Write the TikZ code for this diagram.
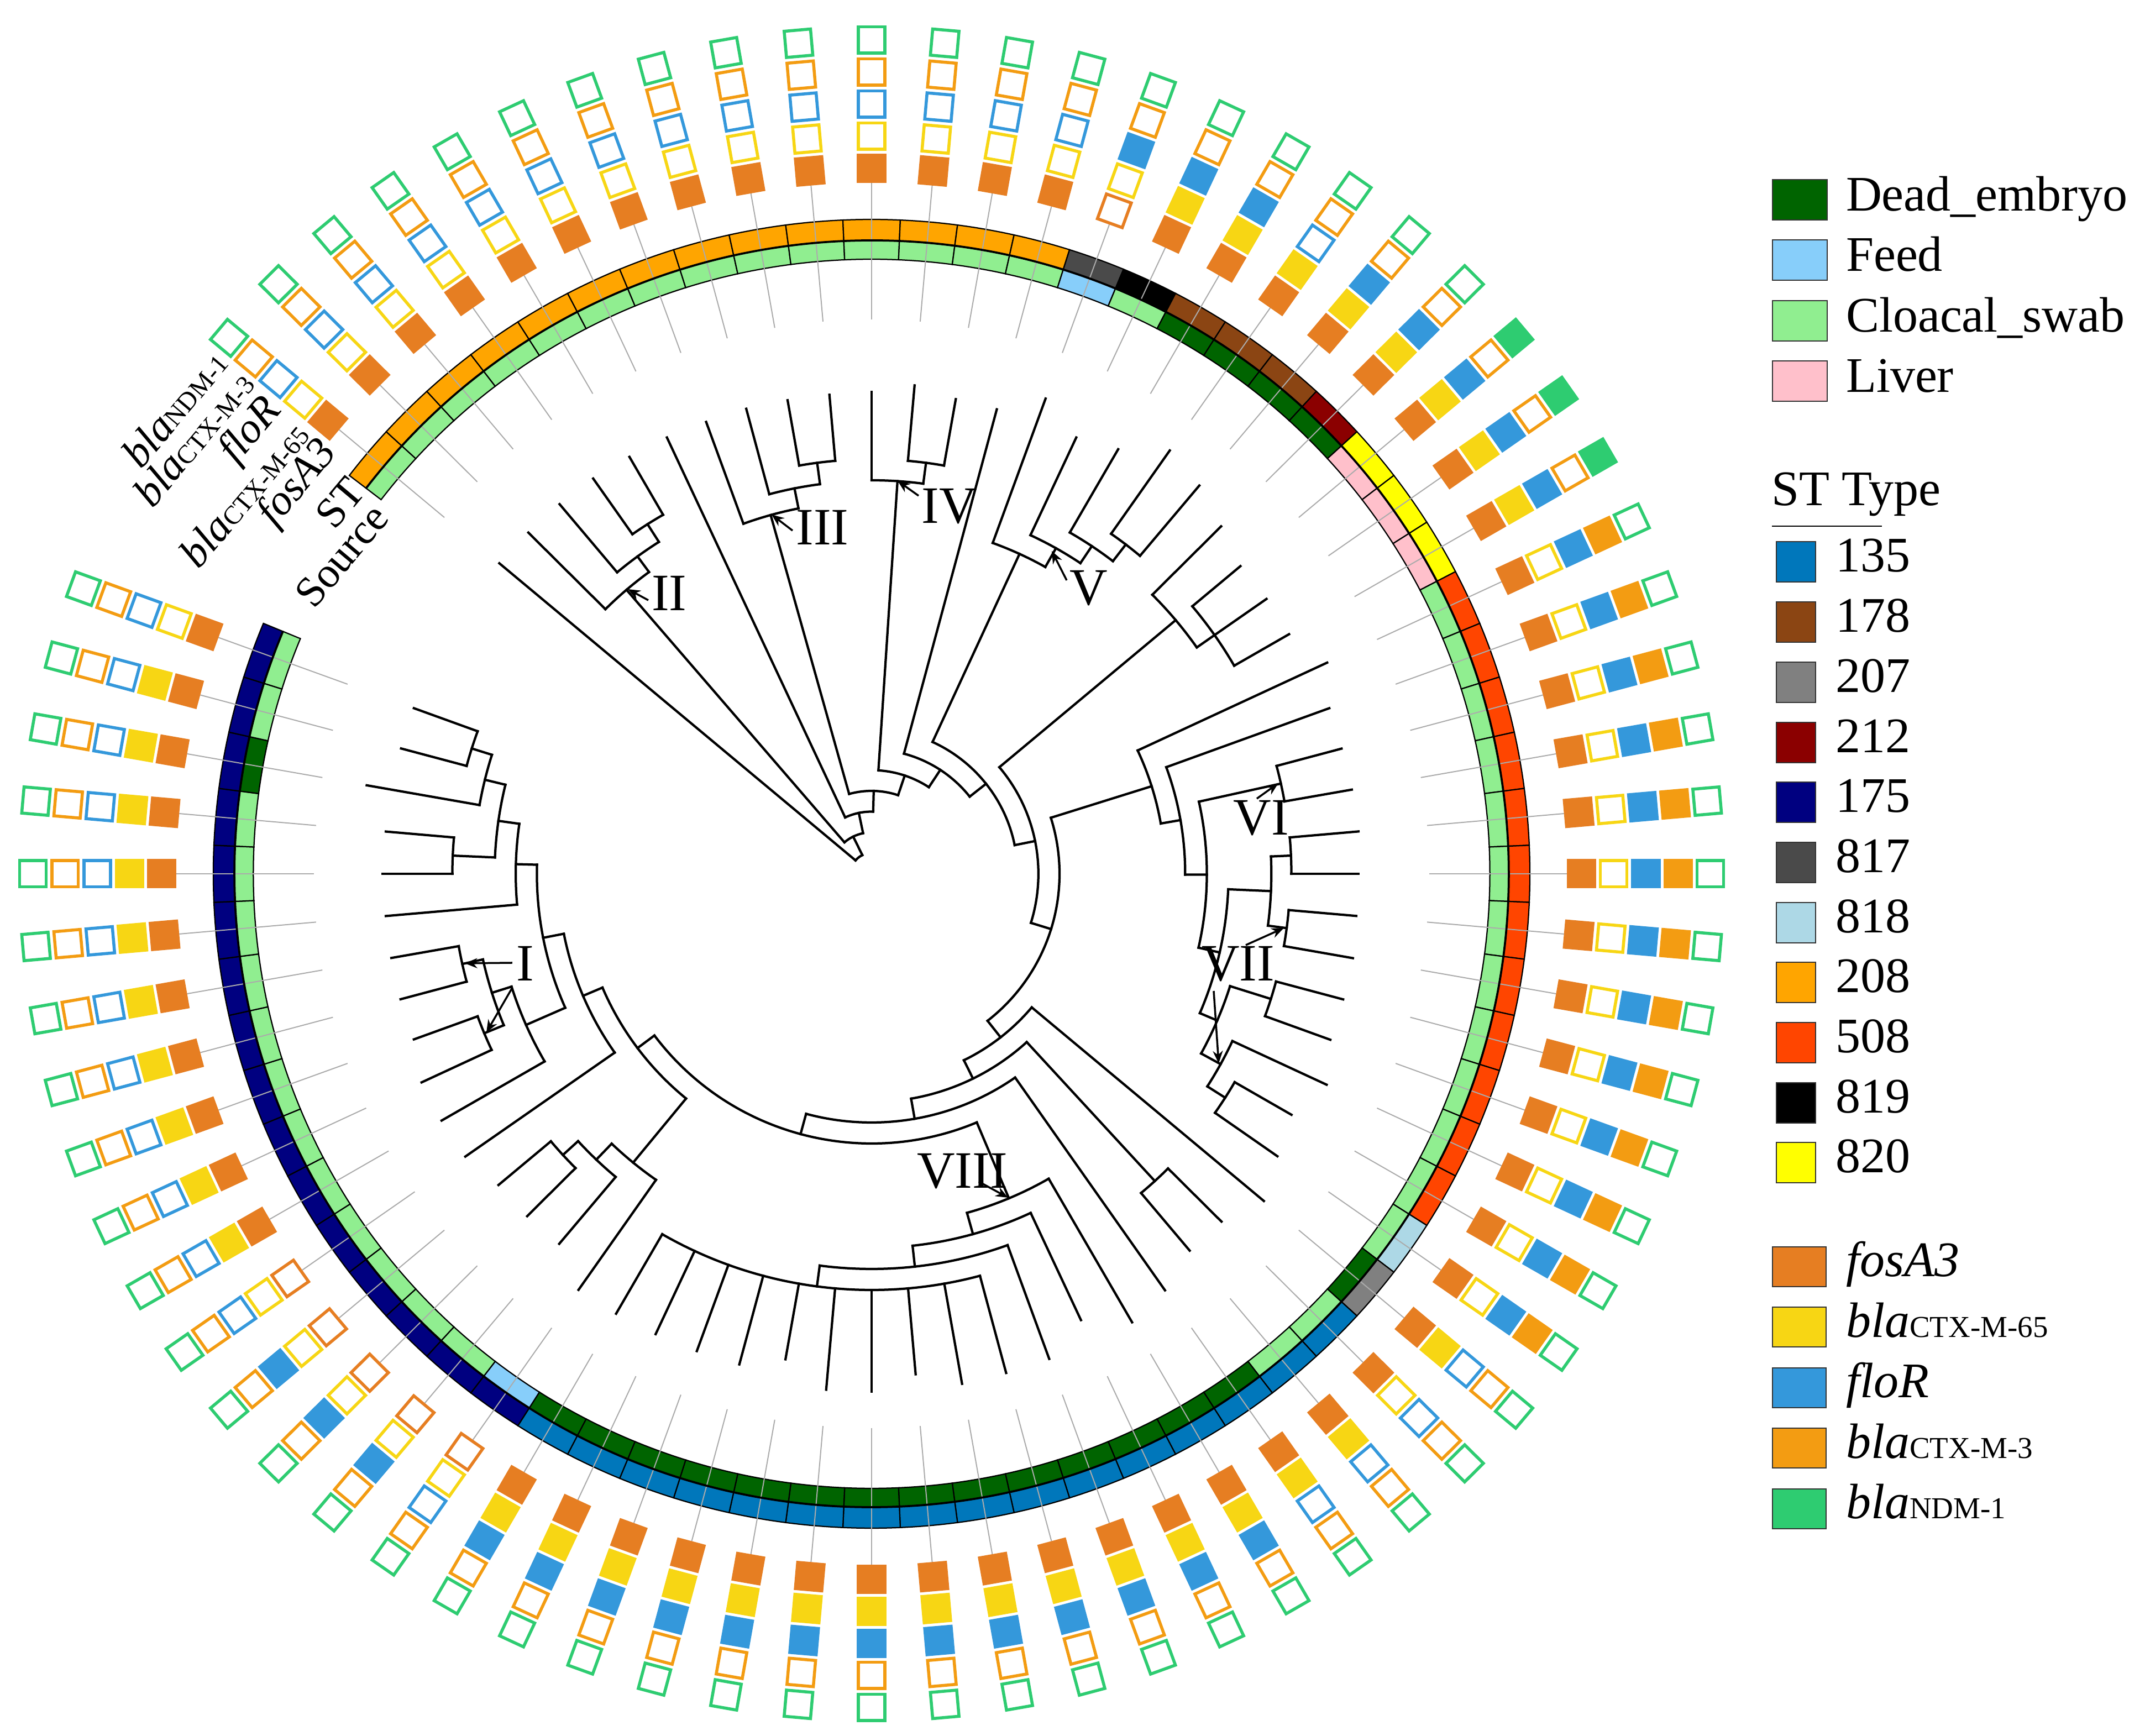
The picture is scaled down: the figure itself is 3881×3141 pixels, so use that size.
\documentclass[tikz,border=0pt]{standalone}
\usepackage{fontspec}
\setmainfont{Liberation Serif}
\usetikzlibrary{arrows.meta}
\definecolor{cDe}{HTML}{006400}
\definecolor{cFe}{HTML}{87CEFA}
\definecolor{cCl}{HTML}{90EE90}
\definecolor{cLi}{HTML}{FFC0CB}
\definecolor{st135}{HTML}{0077BB}
\definecolor{st178}{HTML}{8B4513}
\definecolor{st207}{HTML}{808080}
\definecolor{st212}{HTML}{8B0000}
\definecolor{st175}{HTML}{000080}
\definecolor{st817}{HTML}{4A4A4A}
\definecolor{st818}{HTML}{ADD8E6}
\definecolor{st208}{HTML}{FFA500}
\definecolor{st508}{HTML}{FF4500}
\definecolor{st819}{HTML}{000000}
\definecolor{st820}{HTML}{FFFF00}
\definecolor{gFos}{HTML}{E67E22}
\definecolor{gC65}{HTML}{F7D614}
\definecolor{gFlo}{HTML}{3498DB}
\definecolor{gC3}{HTML}{F39C12}
\definecolor{gNdm}{HTML}{2ECC71}
\tikzset{
  treeline/.style={line width=0.85pt, black, line cap=rect},
  leafline/.style={line width=0.4pt, black!33},
  cell/.style={draw=black, line width=0.45pt},
  legbox/.style={draw=black!80, line width=0.4pt},
  legtext/.style={inner sep=0pt, font=\fontsize{18}{18}\selectfont},
  rotlab/.style={inner sep=0pt, rotate=50, font=\fontsize{15.5}{15.5}\selectfont},
  clade/.style={inner sep=0pt, font=\fontsize{19}{19}\selectfont},
  cladearrow/.style={-{Stealth[length=4.5pt,width=3.6pt]}, line width=0.7pt},
}
\newcommand\gsq[4]{%
  \ifnum#4=1
    \fill[#3, shift={(#1:#2)}, rotate=#1] (-26.5,-26.5) rectangle (26.5,26.5);
  \else
    \draw[#3, line width=1.1pt, shift={(#1:#2)}, rotate=#1] (-23.75,-23.75) rectangle (23.75,23.75);
  \fi}
\newcommand\tnode[5]{%
  \draw[treeline] (#2:#1) -- (#2:#3);%
  \draw[treeline] (#4:#3) arc[start angle=#4, end angle=#5, radius=#3];}
\newcommand\subs[1]{{\fontsize{11}{11}\selectfont #1}}
\newcommand\rsubs[1]{{\fontsize{9.5}{9.5}\selectfont #1}}
\begin{document}
\begin{tikzpicture}[x=0.2pt,y=0.2pt]
\fill[white] (-1577,1581) rectangle (2304,-1560);
\useasboundingbox (-1577,1581) rectangle (2304,-1560);
\begin{scope}[xscale=1.006]
\foreach \lA/\lS/\lR/\ga/\gb/\gc/\gd/\ge/\lP/\lT in {
140/st208/cCl/1/0/0/0/0/37.7/874,
135/st208/cCl/1/0/0/0/0/677/873,
130/st208/cCl/1/0/0/0/0/712/873,
125/st208/cCl/1/0/0/0/0/750/873,
120/st208/cCl/1/0/0/0/0/750/871,
115/st208/cCl/1/0/0/0/0/112.5/871,
110/st208/cCl/1/0/0/0/0/674/870,
105/st208/cCl/1/0/0/0/0/711/871,
100/st208/cCl/1/0/0/0/0/750/870,
95/st208/cCl/1/0/0/0/0/750/870,
90/st208/cCl/1/0/0/0/0/712/872,
85/st208/cCl/1/0/0/0/0/750/887,
80/st208/cCl/1/0/0/0/0/750/872,
75/st208/cCl/1/0/0/0/0/225/870,
70/st817/cFe/0/0/1/0/0/637/915,
65/st819/cCl/1/1/1/0/0/676/871,
60/st178/cDe/1/1/1/0/0/713/887,
55/st178/cDe/1/1/0/0/0/751/935,
50/st178/cDe/1/1/1/0/0/751/917,
45/st212/cDe/1/1/1/0/0/714/889,
40/st820/cLi/1/1/1/0/1/753/866,
35/st820/cLi/1/1/1/0/1/753/867,
30/st820/cLi/1/1/1/0/1/753/867,
25/st508/cCl/1/0/1/1/0/528/904,
20/st508/cCl/1/0/1/1/0/564/876,
15/st508/cCl/1/0/1/1/0/754/875,
10/st508/cCl/1/0/1/1/0/754/877,
5/st508/cCl/1/0/1/1/0/755/879,
0/st508/cCl/1/0/1/1/0/755/876,
-5/st508/cCl/1/0/1/1/0/753/875,
-10/st508/cCl/1/0/1/1/0/753/879,
-15/st508/cCl/1/0/1/1/0/753/878,
-20/st508/cCl/1/0/1/1/0/753/878,
-25/st508/cCl/1/0/1/1/0/716/903,
-30/st508/cCl/1/0/1/1/0/754/872,
-35/st818/cCl/1/0/1/1/0/754/891,
-40/st207/cDe/1/1/0/0/0/376/921,
-45/st135/cCl/1/0/0/0/0/754/890,
-50/st135/cCl/1/1/0/0/0/754/890,
-55/st135/cDe/1/1/0/0/0/450/920,
-60/st135/cDe/1/1/1/0/0/637/937,
-65/st135/cDe/1/1/1/0/0/677/891,
-70/st135/cDe/1/1/1/0/0/715/934,
-75/st135/cDe/1/1/1/0/0/753/935,
-80/st135/cDe/1/1/1/0/0/753/937,
-85/st135/cDe/1/1/1/0/0/753/909,
-90/st135/cDe/1/1/1/0/0/753/937,
-95/st135/cDe/1/1/1/0/0/753/937,
-100/st135/cDe/1/1/1/0/0/753/892,
-105/st135/cDe/1/1/1/0/0/753/919,
-110/st135/cDe/1/1/1/0/0/753/919,
-115/st135/cDe/1/1/1/0/0/753/919,
-120/st135/cDe/1/1/1/0/0/753/919,
-125/st175/cFe/0/0/0/0/0/676/919,
-130/st175/cCl/0/0/1/0/0/716/874,
-135/st175/cCl/0/0/1/0/0/753/876,
-140/st175/cCl/0/0/1/0/0/753/876,
-145/st175/cCl/0/0/0/0/0/564/892,
-150/st175/cCl/1/1/0/0/0/679/893,
-155/st175/cCl/1/1/0/0/0/754/893,
-160/st175/cCl/1/1/0/0/0/754/876,
-165/st175/cCl/1/1/0/0/0/754/877,
-170/st175/cCl/1/1/0/0/0/754/877,
-175/st175/cCl/1/1/0/0/0/640/877,
-180/st175/cCl/1/1/0/0/0/754/880,
-185/st175/cCl/1/1/0/0/0/754/877,
-190/st175/cDe/1/1/0/0/0/716/922,
-195/st175/cCl/1/1/0/0/0/754/876,
-200/st175/cCl/1/0/0/0/0/754/876}{
  \filldraw[cell, fill=\lR] ({\lA+2.5}:1112) arc[start angle=\lA+2.5, end angle=\lA-2.5, radius=1112] -- ({\lA-2.5}:1146) arc[start angle=\lA-2.5, end angle=\lA+2.5, radius=1146] -- cycle;
  \filldraw[cell, fill=\lS] ({\lA+2.5}:1146) arc[start angle=\lA+2.5, end angle=\lA-2.5, radius=1146] -- ({\lA-2.5}:1184) arc[start angle=\lA-2.5, end angle=\lA+2.5, radius=1184] -- cycle;
  \draw[leafline] (\lA:1003) -- (\lA:1250);
  \gsq{\lA}{1276.5}{gFos}{\ga}
  \gsq{\lA}{1334.5}{gC65}{\gb}
  \gsq{\lA}{1392.5}{gFlo}{\gc}
  \gsq{\lA}{1450.5}{gC3}{\gd}
  \gsq{\lA}{1508.5}{gNdm}{\ge}
  \draw[treeline] (\lA:\lP) -- (\lA:\lT);
}
% boundary between the two rings
\draw[black, line width=0.75pt] (142.5:1146) arc[start angle=142.5, end angle=-202.5, radius=1146];
% backbone
\draw[treeline] (140:37.7) arc[start angle=140, end angle=116.199, radius=37.7];
\tnode{37.7}{116.199}{75}{130.625}{101.772}
\tnode{75}{101.772}{112.5}{115}{88.544}
\tnode{112.5}{88.544}{150}{105.625}{71.463}
\tnode{150}{71.463}{187.5}{86.25}{56.676}
\tnode{187.5}{56.676}{225}{75}{38.352}
\tnode{225}{38.352}{262.5}{65.3125}{11.391}
\tnode{262.5}{11.391}{300}{40}{-17.218}
\tnode{300}{-17.218}{338}{17.461}{-51.897}
\tnode{338}{-51.897}{376}{-40}{-63.794}
\tnode{376}{-63.794}{413}{-47.5}{-80.088}
\tnode{413}{-80.088}{450}{-55}{-105.176}
\tnode{450}{-105.176}{488}{-67.1875}{-143.164}
\tnode{488}{-143.164}{526}{-129.375}{-156.953}
\tnode{526}{-156.953}{564}{-145}{-168.906}
\tnode{564}{-168.906}{602}{-156.25}{-181.5625}
\tnode{602}{-181.5625}{640}{-175}{-188.125}
\tnode{640}{-188.125}{678}{-182.5}{-193.75}
% left clades
\tnode{678}{-182.5}{754}{-180}{-185}
\tnode{678}{-193.75}{716}{-190}{-197.5}
\tnode{716}{-197.5}{754}{-195}{-200}
\tnode{602}{-156.25}{679}{-150}{-162.5}
\tnode{679}{-162.5}{716}{-157.5}{-167.5}
\tnode{716}{-157.5}{754}{-155}{-160}
\tnode{716}{-167.5}{754}{-165}{-170}
\tnode{526}{-129.375}{676}{-125}{-133.75}
\tnode{676}{-133.75}{716}{-130}{-137.5}
\tnode{716}{-137.5}{753}{-135}{-140}
% bottom clade VIII
\tnode{488}{-67.1875}{637}{-60}{-74.375}
\tnode{637}{-74.375}{677}{-65}{-83.75}
\tnode{677}{-83.75}{715}{-70}{-97.5}
\tnode{715}{-97.5}{753}{-75}{-120}
\tnode{413}{-47.5}{754}{-45}{-50}
% right clades
\tnode{338}{17.461}{528}{25}{9.922}
\tnode{528}{9.922}{564}{20}{-0.156}
\tnode{564}{-0.156}{603}{12.5}{-12.8125}
\tnode{603}{12.5}{754}{15}{10}
\tnode{603}{-12.8125}{642}{-2.5}{-23.125}
\tnode{642}{-2.5}{719}{2.5}{-7.5}
\tnode{719}{2.5}{755}{5}{0}
\tnode{719}{-7.5}{753}{-5}{-10}
\tnode{642}{-23.125}{676}{-17.5}{-28.75}
\tnode{676}{-17.5}{753}{-15}{-20}
\tnode{676}{-28.75}{716}{-25}{-32.5}
\tnode{716}{-32.5}{754}{-30}{-35}
\tnode{300}{40}{714}{45}{35}
\tnode{714}{35}{753}{40}{30}
% upper clades
\tnode{262.5}{65.3125}{637}{70}{60.625}
\tnode{637}{60.625}{676}{65}{56.25}
\tnode{676}{56.25}{713}{60}{52.5}
\tnode{713}{52.5}{751}{55}{50}
\tnode{187.5}{86.25}{712}{90}{82.5}
\tnode{712}{82.5}{750}{85}{80}
\tnode{150}{105.625}{674}{110}{101.25}
\tnode{674}{101.25}{711}{105}{97.5}
\tnode{711}{97.5}{750}{100}{95}
\tnode{75}{130.625}{677}{135}{126.25}
\tnode{677}{126.25}{712}{130}{122.5}
\tnode{712}{122.5}{750}{125}{120}
\end{scope}

\begin{scope}[shift={(-1577,1581)},yscale=-1]
% ring labels
\node[rotlab, anchor=east] (lsrc) at (688,922) {Source};
\node[rotlab, anchor=east] (lst) at (645,874) {ST};
\node[rotlab, anchor=east] (lfos) at (597,807) {\textit{fosA3}};
\node[rotlab, anchor=east] (lc65) at (543,772) {\textit{bla}\rsubs{CTX-M-65}};
\node[rotlab, anchor=east] (lflo) at (497,730) {\textit{floR}};
\node[rotlab, anchor=east] (lc3) at (444,680) {\textit{bla}\rsubs{CTX-M-3}};
\node[rotlab, anchor=east] (lndm) at (396,642) {\textit{bla}\rsubs{NDM-1}};
% clade labels
\node[clade] (cI) at (950,1743) {I};
\node[clade] (cII) at (1211,1073) {II};
\node[clade] (cIII) at (1488,954) {III};
\node[clade] (cIV) at (1718,916) {IV};
\node[clade] (cV) at (1970,1064) {V};
\node[clade] (cVI) at (2282,1480) {VI};
\node[clade] (cVII) at (2240,1744) {VII};
\node[clade] (cVIII) at (1741,2119) {VIII};
\coordinate (aIs) at (927,1742); \coordinate (aIt) at (841,1743);
\coordinate (aIbs) at (927,1787); \coordinate (aIbt) at (880,1868);
\coordinate (aIIs) at (1173,1086); \coordinate (aIIt) at (1136,1066);
\coordinate (aIIIs) at (1434,960); \coordinate (aIIIt) at (1396,931);
\coordinate (aIVs) at (1662,897); \coordinate (aIVt) at (1624,870);
\coordinate (aVs) at (1930,1050); \coordinate (aVt) at (1903,997);
\coordinate (aVIs) at (2274,1445); \coordinate (aVIt) at (2313,1417);
\coordinate (aVIIs) at (2254,1710); \coordinate (aVIIt) at (2323,1679);
\coordinate (aVIIbs) at (2196,1793); \coordinate (aVIIbt) at (2205,1924);
\coordinate (aVIIIs) at (1771,2138); \coordinate (aVIIIt) at (1824,2167);
\draw[cladearrow] (aIs) -- (aIt);
\draw[cladearrow] (aIbs) -- (aIbt);
\draw[cladearrow] (aIIs) -- (aIIt);
\draw[cladearrow] (aIIIs) -- (aIIIt);
\draw[cladearrow] (aIVs) -- (aIVt);
\draw[cladearrow] (aVs) -- (aVt);
\draw[cladearrow] (aVIs) -- (aVIt);
\draw[cladearrow] (aVIIs) -- (aVIIt);
\draw[cladearrow] (aVIIbs) -- (aVIIbt);
\draw[cladearrow] (aVIIIs) -- (aVIIIt);
% legends
\foreach \yy/\cc/\lt [count=\i] in {362/cDe/Dead\_embryo,471/cFe/Feed,581/cCl/Cloacal\_swab,690/cLi/Liver}{
  \filldraw[legbox, fill=\cc] (3207,\yy-36.5) rectangle (3306,\yy+36.5);
  \node[legtext, anchor=base west] (src\i) at (3339,\yy+20) {\lt};
}
\node[legtext, anchor=base west] (sttitle) at (3204,915) {ST Type};
\draw[line width=0.5pt] (3206,952) -- (3405,952);
\foreach \yy/\cc/\lt [count=\i] in {1017/st135/135,1125.7/st178/178,1234.4/st207/207,1343.1/st212/212,1451.8/st175/175,1560.5/st817/817,1669.2/st818/818,1777.9/st208/208,1886.6/st508/508,1995.3/st819/819,2104/st820/820}{
  \filldraw[legbox, fill=\cc] (3214,\yy-36.5) rectangle (3285,\yy+36.5);
  \node[legtext, anchor=base west] (stl\i) at (3320,\yy+18) {\lt};
}
\foreach \yy/\cc/\lt [count=\i] in {2292/gFos/\textit{fosA3},2401.5/gC65/\textit{bla}\subs{CTX-M-65},2511/gFlo/\textit{floR},2620.5/gC3/\textit{bla}\subs{CTX-M-3},2730/gNdm/\textit{bla}\subs{NDM-1}}{
  \filldraw[legbox, fill=\cc] (3207,\yy-36) rectangle (3304,\yy+36);
  \node[legtext, anchor=base west] (gl\i) at (3339,\yy+18) {\lt};
}
\end{scope}
\end{tikzpicture}
\end{document}
